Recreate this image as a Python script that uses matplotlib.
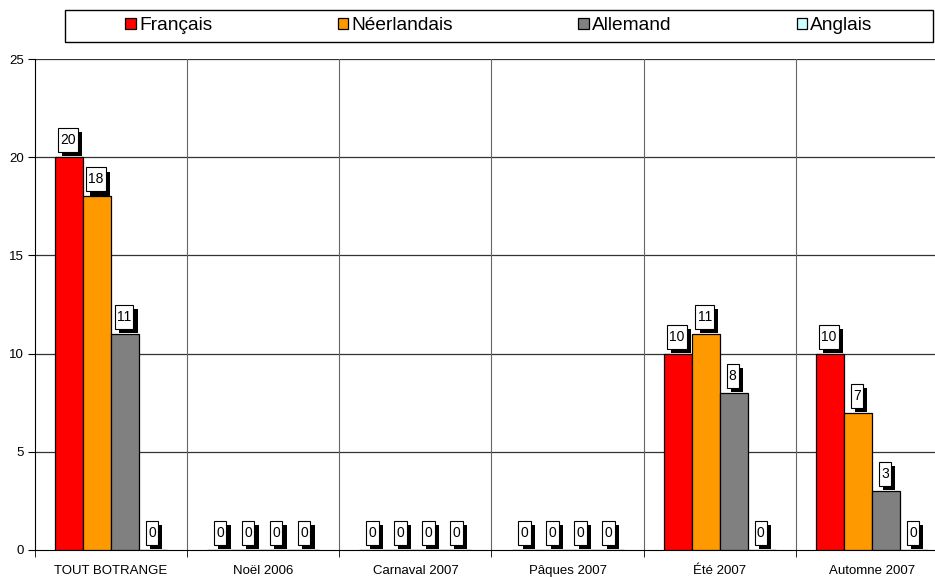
import numpy as np
import matplotlib.pyplot as plt
import matplotlib.patheffects as pe
from matplotlib.patches import Rectangle
from matplotlib.path import Path

plt.rcParams['font.family'] = ['Liberation Sans', 'DejaVu Sans']

# chart data
categories = ['TOUT BOTRANGE', 'Noël 2006', 'Carnaval 2007', 'Pâques 2007', 'Été 2007', 'Automne 2007']
series_names = ['Français', 'Néerlandais', 'Allemand', 'Anglais']
francais = [20, 0, 0, 0, 10, 10]
neerlandais = [18, 0, 0, 0, 11, 7]
allemand = [11, 0, 0, 0, 8, 3]
anglais = [0, 0, 0, 0, 0, 0]
y_ticks = [0, 5, 10, 15, 20, 25]

colors = ['#FF0000', '#FF9900', '#808080', '#CCFFFF']
series = [francais, neerlandais, allemand, anglais]


def label_box(x0, y0, width, height, mutation_size):
    # narrow left/right padding, taller top/bottom padding (like excel labels)
    px = 0.16 * mutation_size
    py = 0.36 * mutation_size
    return Path([(x0 - px, y0 - py), (x0 + width + px, y0 - py),
                 (x0 + width + px, y0 + height + py), (x0 - px, y0 + height + py),
                 (x0 - px, y0 - py)], closed=True)


W, H = 935, 577
fig = plt.figure(figsize=(W / 100, H / 100), dpi=100)
ax = fig.add_axes([35 / W, 27 / H, 913 / W, 491 / H])

x = np.arange(len(categories))
bw = 0.184

shadow = [pe.SimplePatchShadow(offset=(3, -3), shadow_rgbFace='black', alpha=1.0), pe.Normal()]

for i, (vals, col, name) in enumerate(zip(series, colors, series_names)):
    pos = x + (i - 1.5) * bw
    ax.bar(pos, vals, width=bw, color=col, edgecolor='black', linewidth=0.9,
           label=name, zorder=3)
    for px, v in zip(pos, vals):
        t = ax.annotate(str(v), (px, v), xytext=(-1, 10), textcoords='offset pixels',
                        ha='center', va='bottom', fontsize=10, color='black',
                        bbox=dict(boxstyle=label_box, fc='white', ec='black', lw=0.8),
                        zorder=5)
        t.get_bbox_patch().set_path_effects(shadow)

ax.set_xlim(-0.5, len(categories) - 0.5)
ax.set_ylim(0, 25)
ax.set_yticks(y_ticks)
ax.tick_params(axis='y', labelsize=9.5, length=5, direction='out', pad=3)

ax.set_xticks(x)
ax.set_xticklabels(categories, fontsize=9.5)
ax.tick_params(axis='x', which='major', length=0, pad=11)
ax.set_xticks(np.arange(len(categories) + 1) - 0.5, minor=True)
ax.tick_params(axis='x', which='minor', length=5, direction='out')

for v in y_ticks[1:]:
    ax.axhline(v, color='#333333', lw=0.9, zorder=1)
for b in np.arange(1, len(categories)) - 0.5:
    ax.axvline(b, color='#666666', lw=0.8, zorder=1)

for s in ['top', 'right']:
    ax.spines[s].set_visible(False)
ax.spines['left'].set_color('black')
ax.spines['bottom'].set_color('black')

# legend frame and entries
fig.patches.append(Rectangle((65 / W, 1 - 42 / H), 868 / W, 32 / H,
                             transform=fig.transFigure, fill=False,
                             ec='black', lw=1.0))
handles, labels = ax.get_legend_handles_labels()
fig.legend(handles, labels, loc='center', bbox_to_anchor=(499 / W, 1 - 26 / H),
           ncol=4, frameon=False, fontsize=13.8, handlelength=0.55, handleheight=0.55,
           handletextpad=0.15, columnspacing=6.55, borderpad=0)

fig.savefig('out.png', dpi=100)
